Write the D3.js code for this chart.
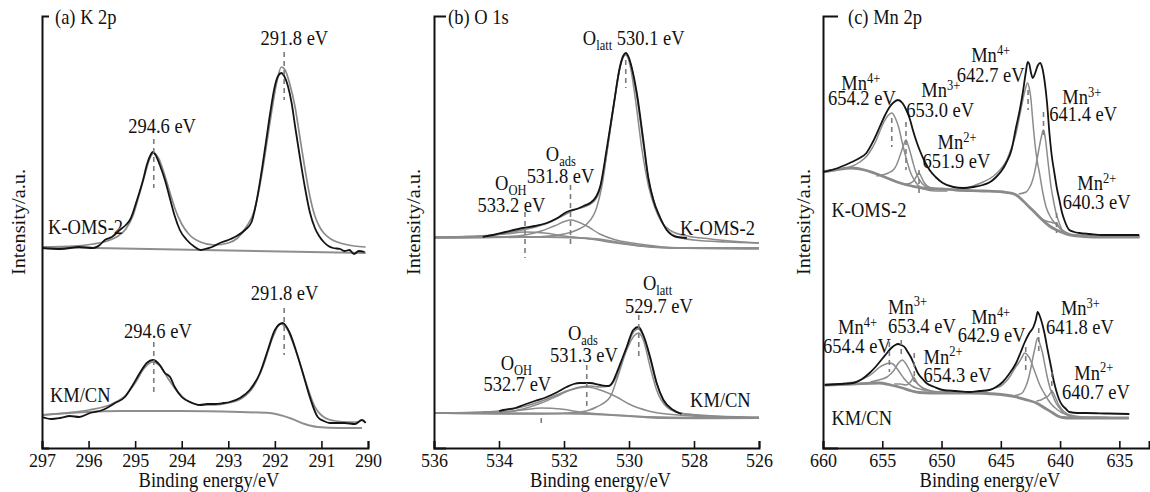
<!DOCTYPE html>
<html>
<head>
<meta charset="utf-8">
<script src="https://cdn.jsdelivr.net/npm/d3@7"></script>
<style>
  body { margin: 0; background: #fff; }
  svg { display: block; background: #fff; }
  svg text { font-family: "Liberation Serif", Tinos, "Times New Roman", Times, "DejaVu Serif", serif; fill: #111; white-space: pre; }
</style>
</head>
<body>
<svg id="chart" width="1150" height="492" font-family="Liberation Serif, Times New Roman, serif"></svg>
<script>
// ---------- (a) K 2p : [binding energy (eV), intensity (a.u.)] ----------
const k2pTicks = [297, 296, 295, 294, 293, 292, 291, 290];

const k2pOmsRaw = [
  [297.0,200],[296.6,199],[296.2,201],[295.9,200],[295.76,203],[295.65,208],[295.5,211],[295.33,218],[295.2,223],[295.1,229],
  [294.96,248],[294.83,268],[294.75,283],[294.68,292],[294.62,296],[294.55,292],[294.47,283],[294.36,268],[294.25,249],[294.15,232],
  [294.04,218],[293.89,208],[293.72,201],[293.6,198],[293.5,199],[293.35,201],[293.18,205],[293.0,208],[292.86,211],[292.64,218],
  [292.5,226],[292.4,245],[292.3,272],[292.2,303],[292.1,335],[292.0,362],[291.93,372],[291.86,375],[291.8,372],[291.72,362],
  [291.64,345],[291.56,320],[291.46,290],[291.36,262],[291.25,236],[291.14,220],[291.05,212],[290.95,206],[290.85,202],[290.75,200],
  [290.6,199],[290.5,197],[290.4,198],[290.3,194],[290.2,197],[290.07,196]
];
const k2pOmsFit = [
  [297.0,201],[296.3,202],[295.9,204],[295.6,207],[295.4,211],[295.2,219],[295.05,232],[294.92,252],[294.8,272],[294.68,290],
  [294.6,295],[294.5,290],[294.38,275],[294.25,255],[294.15,240],[294.0,224],[293.85,214],[293.6,206],[293.3,203],[293.0,205],
  [292.8,210],[292.6,222],[292.45,236],[292.35,256],[292.25,282],[292.15,312],[292.05,342],[291.95,368],[291.86,381],[291.78,378],
  [291.68,364],[291.57,342],[291.46,310],[291.35,278],[291.25,252],[291.14,232],[291.05,222],[290.95,215],[290.8,209],[290.6,205],
  [290.3,202],[290.05,201]
];
const k2pOmsBg = [[297.0,201],[290.05,195]];

const k2pCnRaw = [
  [297.0,31],[296.8,29],[296.61,30],[296.4,32],[296.2,31],[295.97,35],[295.7,38],[295.43,45],[295.22,51],[295.05,63],
  [294.9,75],[294.75,85],[294.62,88],[294.47,83],[294.36,75],[294.25,71],[294.15,61],[294.0,51],[293.82,46],[293.61,43],
  [293.45,44],[293.29,44],[293.1,45],[292.97,46],[292.75,50],[292.54,58],[292.32,75],[292.15,98],[292.0,118],[291.83,125],
  [291.68,115],[291.53,95],[291.4,75],[291.25,51],[291.08,31],[290.95,27],[290.82,25],[290.5,25],[290.28,24],[290.13,28],[290.05,25]
];
const k2pCnFit = [
  [297.0,33],[296.5,35],[296.0,38],[295.5,44],[295.2,53],[295.0,65],[294.8,80],[294.62,86],[294.45,81],[294.3,70],
  [294.1,57],[293.9,48],[293.6,43],[293.3,43],[293.0,45],[292.7,50],[292.45,62],[292.25,82],[292.05,110],[291.88,124],
  [291.75,120],[291.55,97],[291.35,68],[291.15,42],[290.95,31],[290.7,27],[290.4,26],[290.2,26]
];
const k2pCnBg = [
  [297.0,33],[295.33,37],[294.04,37],[292.75,36],[292.11,35],[291.68,30],[291.36,24],[291.08,21],[290.61,20],[290.13,20]
];
// peak markers: [energy, upper end, lower end]
const k2pMarkers = [[294.6,309,260],[291.8,396,348],[294.6,106,56],[291.8,140,93]];

// ---------- (b) O 1s ----------
const o1sTicks = [536, 534, 532, 530, 528, 526];

const o1sOmsRaw = [
  [534.5,211],[534.18,213],[533.8,216],[533.26,220],[532.9,222],[532.53,225],[532.2,230],[531.92,236],[531.75,238],[531.61,239],
  [531.4,242],[531.2,245],[531.0,252],[530.89,261],[530.69,298],[530.48,341],[530.28,381],[530.18,392],[530.1,395],[530.0,390],
  [529.92,381],[529.76,355],[529.56,308],[529.41,271],[529.25,248],[529.05,231],[528.84,218],[528.53,211],[528.22,210]
];
const o1sOmsFit = [
  [536,211],[535,211.5],[534.2,213],[533.6,216],[533.0,220],[532.5,225],[532.0,233],[531.7,238],[531.4,241],[531.1,246],
  [530.9,258],[530.7,292],[530.5,336],[530.3,377],[530.18,391],[530.1,394],[530.0,389],[529.9,377],[529.75,350],[529.55,302],
  [529.4,268],[529.2,243],[529.0,227],[528.8,217],[528.5,211],[528.0,208],[527.0,206],[526,205]
];
const o1sOmsLatt = [
  [536,210],[533.0,211],[532.0,214],[531.6,218],[531.3,224],[531.0,240],[530.8,268],[530.6,315],[530.4,358],[530.25,385],
  [530.1,393],[529.95,380],[529.8,348],[529.6,298],[529.4,262],[529.2,240],[529.0,226],[528.7,217],[528.2,212],[527.5,209],[526.0,205]
];
const o1sOmsAds = [
  [536,210],[534,211],[533.2,213],[532.7,217],[532.3,222],[531.8,228],[531.3,222],[530.9,214],[530.4,208],[529.9,205],
  [529.2,202],[528.5,200],[526,199]
];
const o1sOmsOh = [
  [536,211],[534.5,212],[533.8,214],[533.2,216],[532.6,215],[532.0,212],[531.2,209],[530.4,205],[529.6,202],[528.5,200],[526,200]
];
const o1sOmsBg = [
  [536,211],[532.5,211],[531.8,210.5],[531.0,209],[530.3,205.5],[529.6,202],[529.0,200.5],[528,200],[526,200]
];

const o1sCnRaw = [
  [534.0,37],[533.87,38],[533.5,40],[533.25,43],[532.9,47],[532.53,51],[532.2,56],[531.92,61],[531.7,64],[531.51,65],
  [531.2,65],[530.89,63],[530.64,62],[530.5,66],[530.38,75],[530.2,90],[530.07,101],[529.87,118],[529.71,121],[529.56,113],
  [529.35,91],[529.15,65],[528.94,48],[528.64,38],[528.38,34]
];
const o1sCnFit = [
  [536,35],[534.5,36],[534.0,37],[533.3,41],[532.6,48],[532.0,56],[531.5,61],[531.2,62],[530.9,61],[530.6,62],
  [530.38,72],[530.15,93],[529.9,114],[529.72,119],[529.55,111],[529.35,89],[529.15,65],[528.95,48],[528.65,38],[528.3,34],
  [527.5,32],[526,31]
];
const o1sCnLatt = [
  [536,35],[533.5,34],[532.7,34],[531.5,36],[531.0,41],[530.58,51],[530.38,68],[530.07,98],[529.85,112],[529.7,115],
  [529.56,108],[529.35,81],[529.15,58],[528.84,41],[528.43,35],[527.4,32],[526.07,30]
];
const o1sCnAds = [
  [536,35],[533.8,36],[532.7,45],[532.2,52],[531.8,58],[531.3,61],[530.8,57],[530.38,51],[530.0,44],[529.4,37],
  [528.5,33],[527.5,31],[526,30]
];
const o1sCnOh = [[536,35],[534,36],[533.3,38],[532.7,40],[532.1,39],[531.5,36],[530.5,33],[529,31],[526,30]];
const o1sCnBg = [[536,35],[532,34.5],[531.2,34],[530.5,33],[529.8,31.5],[529,30],[528,29.7],[526,30]];
const o1sMarkers = [[533.2,236,190],[531.8,263,201],[530.1,388,360],[532.7,30,21],[531.3,83,38],[529.7,133,90]];

// ---------- (c) Mn 2p ----------
const mn2pTicks = [660, 655, 650, 645, 640, 635];

const mn2pOmsRaw = [
  [660.0,276],[659.0,279],[657.75,285],[656.9,290],[656.34,295],[655.8,306],[655.22,321],[654.8,332],[654.38,341],[654.0,346],
  [653.68,348],[653.3,345],[652.97,338],[652.7,330],[652.42,318],[652.1,306],[651.85,298],[651.4,286],[651.01,278],[650.5,271],
  [649.89,265],[649.0,261],[648.21,260],[647.3,261],[646.52,263],[645.9,266],[645.39,271],[644.95,277],[644.55,285],[644.1,298],
  [643.71,321],[643.4,338],[643.15,355],[642.9,375],[642.73,386],[642.6,384],[642.45,375],[642.31,370],[642.1,375],[641.9,382],
  [641.69,385],[641.5,380],[641.32,368],[641.1,345],[640.9,315],[640.7,292],[640.48,275],[640.26,259],[640.06,248],[639.85,236],
  [639.64,228],[639.22,218],[638.8,216],[638.38,215],[637.5,214],[636.44,213],[635,213],[633.32,213]
];
const mn2pOms654 = [
  [660,276],[658.5,279],[657.5,282],[656.9,286],[656.3,292],[655.9,299],[655.5,308],[655.2,317],[654.9,325],[654.55,332],
  [654.2,335],[653.9,330],[653.6,320],[653.35,307],[653.1,295],[652.85,284],[652.6,275],[652.3,268],[652.0,263],[651.5,259],
  [650.5,257],[649.5,257]
];
const mn2pOms653 = [
  [655.5,272],[654.5,275],[654.0,279],[653.8,283],[653.6,289],[653.4,296],[653.2,303],[653.0,308],[652.8,302],[652.6,294],
  [652.4,285],[652.2,277],[651.9,269],[651.6,264],[651.0,260],[650.5,259]
];
const mn2pOms652 = [
  [653.5,265],[653.0,264],[652.6,265],[652.3,268],[652.1,272],[651.9,275],[651.7,271],[651.5,266],[651.2,262],[650.8,260],[650,258]
];
const mn2pOms643 = [
  [648.5,258],[647.6,261],[646.5,266],[645.6,272],[644.86,281],[644.5,288],[644.2,297],[643.95,305],[643.71,315],[643.45,330],
  [643.2,345],[642.95,358],[642.75,365],[642.6,360],[642.45,348],[642.33,331],[642.1,302],[641.9,285],[641.74,275],[641.45,255],
  [641.18,241],[640.9,233],[640.65,228],[640.2,222],[639.81,218],[639.2,214],[638.5,213],[637,211.5],[635,211],[633.3,211]
];
const mn2pOms641 = [
  [643.5,254],[642.86,256],[642.6,260],[642.4,265],[642.2,273],[642.0,285],[641.8,298],[641.6,310],[641.4,318],[641.25,310],
  [641.1,295],[640.91,275],[640.75,260],[640.6,250],[640.34,235],[640.1,226],[639.81,218],[639.4,215],[639,213],[637,212],
  [635,211.5],[633.3,211.5]
];
const mn2pOms640 = [
  [641.6,230],[641.2,227],[640.8,226],[640.5,225],[640.3,225],[640.1,221],[639.9,218],[639.7,216],[639.3,214],[639,213],
  [637,211.5],[633.3,211]
];
const mn2pOmsBg = [
  [660,276],[659,278],[657.6,280],[656.5,278],[655.7,275],[654.6,270],[653.5,265],[652.5,262],[651.6,260],[650,259],
  [648.8,258],[646.5,257],[644.8,256],[644.2,255],[643.7,253],[643.2,248],[642.6,241],[642.0,234],[641.5,228],[640.9,222],
  [640.3,218],[639.7,215],[639.2,213],[638,211.5],[636.4,211],[633.3,211]
];

const mn2pCnRaw = [
  [659.86,63],[658.6,64],[657.47,65],[656.7,69],[656.07,75],[655.5,82],[654.95,90],[654.6,95],[654.24,100],[653.9,103],
  [653.68,104],[653.4,103],[653.12,101],[652.85,96],[652.55,90],[652.3,83],[652.0,75],[651.6,69],[651.29,65],[650.6,61],
  [649.89,58],[648.8,57],[647.64,56],[646.8,57],[645.96,58],[645.4,61],[644.84,66],[644.3,74],[643.71,85],[643.35,95],
  [643.01,105],[642.59,115],[642.25,121],[642.05,128],[641.89,136],[641.75,133],[641.6,128],[641.32,115],[641.05,98],[640.76,81],
  [640.55,68],[640.34,58],[640.1,49],[639.83,43],[639.5,39],[639.22,36],[638.5,35],[637.81,35],[636,34.5],[634.16,34]
];
const mn2pCn654 = [
  [658,65],[657,67],[656.5,70],[656,73],[655.5,78],[655.2,81],[654.9,83],[654.4,85],[654.1,84],[653.8,80],
  [653.5,75],[653.2,70],[652.9,66],[652.5,62],[652,59.5],[651.5,58],[650.5,56.5],[649.5,56]
];
const mn2pCn653 = [
  [656,66],[655.3,68],[655,69],[654.6,71],[654.3,74],[654.0,78],[653.8,82],[653.55,86],[653.3,88],[653.05,85],
  [652.8,80],[652.55,74],[652.3,68],[652.0,64],[651.6,60],[651.0,57.5],[650.5,56]
];
const mn2pCn652 = [
  [654,64],[653.5,64],[653.0,63],[652.7,65],[652.5,68],[652.36,71],[652.2,68],[652.0,64],[651.8,62],[651.4,59],[651,57],[650,55]
];
const mn2pCn643 = [
  [647.5,56],[646.5,57],[646,58],[645.5,60],[645,62],[644.6,66],[644.2,72],[643.8,80],[643.5,85],[643.2,91],
  [643.0,95],[642.75,93],[642.5,88],[642.25,80],[642.0,72],[641.75,64],[641.5,58],[641.25,53],[641.0,48],[640.75,44],
  [640.5,41],[640.2,38],[639.8,35],[639.2,33],[638.5,31],[637,30.5],[634.2,30]
];
const mn2pCn642 = [
  [644,52],[643.6,53],[643.2,55],[642.95,60],[642.7,68],[642.5,78],[642.3,90],[642.1,101],[641.9,110],[641.7,104],
  [641.5,96],[641.3,84],[641.1,72],[640.9,62],[640.7,55],[640.5,49],[640.3,44],[640.05,40],[639.8,36],[639.4,33],
  [639,31],[637,30.5],[634.2,30]
];
const mn2pCn641 = [
  [642,47],[641.6,48],[641.3,50],[641.0,52],[640.8,55],[640.62,56],[640.45,52],[640.3,48],[640.2,45],[640.0,41],
  [639.8,38],[639.5,35],[639.2,33],[638,31],[636,30.5],[634.2,30]
];
const mn2pCnBg = [
  [659.86,63],[657.5,64],[655.3,65],[654.3,63],[653.3,60],[652.5,57],[651.9,55.5],[650,55],[647.6,55],[645.5,54],
  [643.7,51],[642.8,48],[642.0,45],[641.3,40],[640.6,35],[640.2,32],[639.8,30.5],[639,30],[636,30],[634.2,30]
];
const mn2pMarkers = [
  [654.2,330,301],[653.0,326,278],[651.9,278,251],[642.7,358,338],[641.4,336,311],[640.3,235,215],
  [654.4,106,76],[653.4,108,90],[652.3,95,66],[642.9,101,78],[641.8,120,95],[640.7,76,55]
];

// ---------- drawing ----------
const SERIF = "'Liberation Serif', Tinos, 'Times New Roman', Times, 'DejaVu Serif', serif";
const FONT = 18.5, SMALL = 12.5, STRETCH = 1.1;
const PLOT_TOP = 16, PLOT_BOTTOM = 448;
const svg = d3.select("#chart");

const STYLE = {
  bg:   { stroke: "#8e8e8e", width: 2.0 },
  bgMn: { stroke: "#8a8a8a", width: 2.8 },
  comp: { stroke: "#8c8c8c", width: 1.5 },
  fit:  { stroke: "#8a8a8a", width: 1.7 },
  raw:  { stroke: "#141414", width: 1.8 }
};

// text with ^sup and _sub segments, slightly taller than wide
function richText(g, x, y, str, size, anchor) {
  const t = g.append("text")
    .attr("transform", `translate(${x},${y}) scale(1,${STRETCH})`)
    .attr("text-anchor", anchor || "start")
    .style("font-family", SERIF)
    .style("font-size", size + "px");
  let shift = 0;
  str.split(/(\^\S+|_\S+)/).filter(s => s.length).forEach(tok => {
    let target = 0, fs = size, txt = tok;
    if (tok[0] === "^") { target = -6.5; fs = SMALL; txt = tok.slice(1); }
    else if (tok[0] === "_") { target = 4.5; fs = SMALL; txt = tok.slice(1); }
    t.append("tspan").attr("dy", target - shift).style("font-size", fs + "px").text(txt);
    shift = target;
  });
  return t;
}

const panels = [
  {
    title: "(a) K 2p", domain: [297, 290], left: 42, right: 368, ticks: k2pTicks,
    bracket: 7, titleDx: 13, yLabelX: 25,
    series: [
      [k2pOmsBg, "bg"], [k2pOmsFit, "fit"], [k2pOmsRaw, "raw"],
      [k2pCnBg, "bg"], [k2pCnFit, "fit"], [k2pCnRaw, "raw"]
    ],
    markers: k2pMarkers,
    labels: [
      ["294.6 eV", 295.15, 315], ["291.8 eV", 292.31, 403.5], ["K-OMS-2", 296.87, 214],
      ["294.6 eV", 295.24, 110.5], ["291.8 eV", 292.52, 148], ["KM/CN", 296.83, 46]
    ]
  },
  {
    title: "(b) O 1s", domain: [536, 526], left: 434, right: 759, ticks: o1sTicks,
    bracket: 12, titleDx: 14, yLabelX: 420,
    series: [
      [o1sOmsBg, "bg"], [o1sOmsOh, "comp"], [o1sOmsAds, "comp"], [o1sOmsLatt, "comp"], [o1sOmsFit, "fit"], [o1sOmsRaw, "raw"],
      [o1sCnBg, "bg"], [o1sCnOh, "comp"], [o1sCnAds, "comp"], [o1sCnLatt, "comp"], [o1sCnFit, "fit"], [o1sCnRaw, "raw"]
    ],
    markers: o1sMarkers,
    labels: [
      ["O_latt 530.1 eV", 531.42, 403], ["O_ads", 532.56, 287], ["531.8 eV", 533.15, 265],
      ["O_OH", 534.12, 258], ["533.2 eV", 534.66, 236], ["K-OMS-2", 528.43, 213],
      ["O_latt", 529.57, 158], ["529.7 eV", 530.12, 135], ["O_ads", 531.88, 108], ["531.3 eV", 532.43, 86],
      ["O_OH", 533.95, 78], ["532.7 eV", 534.48, 57], ["KM/CN", 528.12, 41]
    ]
  },
  {
    title: "(c) Mn 2p", domain: [660, 632.5], left: 823, right: 1149, ticks: mn2pTicks,
    bracket: 15, titleDx: 25, yLabelX: 810,
    series: [
      [mn2pOmsBg, "bgMn"], [mn2pOms654, "comp"], [mn2pOms653, "comp"], [mn2pOms652, "comp"],
      [mn2pOms643, "comp"], [mn2pOms641, "comp"], [mn2pOms640, "comp"], [mn2pOmsRaw, "raw"],
      [mn2pCnBg, "bgMn"], [mn2pCn654, "comp"], [mn2pCn653, "comp"], [mn2pCn652, "comp"],
      [mn2pCn643, "comp"], [mn2pCn642, "comp"], [mn2pCn641, "comp"], [mn2pCnRaw, "raw"]
    ],
    markers: mn2pMarkers,
    labels: [
      ["Mn^4+", 658.45, 358], ["654.2 eV", 659.58, 343], ["Mn^3+", 651.71, 351], ["653.0 eV", 652.97, 331],
      ["Mn^2+", 650.34, 299], ["651.9 eV", 651.6, 280], ["Mn^4+", 647.5, 386], ["642.7 eV", 648.71, 366],
      ["Mn^3+", 639.81, 344], ["641.4 eV", 640.91, 327], ["Mn^2+", 638.55, 258], ["640.3 eV", 639.78, 239.5],
      ["K-OMS-2", 659.29, 231],
      ["Mn^4+", 658.74, 114], ["654.4 eV", 660.0, 95], ["Mn^3+", 654.52, 134.5], ["653.4 eV", 654.52, 115],
      ["Mn^2+", 651.52, 84.5], ["654.3 eV", 651.52, 66], ["Mn^4+", 647.5, 124], ["642.9 eV", 648.63, 106],
      ["Mn^3+", 639.93, 133], ["641.8 eV", 641.18, 114], ["Mn^2+", 638.8, 68.5], ["640.7 eV", 639.83, 49.5],
      ["KM/CN", 659.29, 23]
    ]
  }
];

panels.forEach(p => {
  const g = svg.append("g");
  const x = d3.scaleLinear().domain(p.domain).range([p.left, p.right]);
  const y = d3.scaleLinear().domain([0, PLOT_BOTTOM - PLOT_TOP]).range([PLOT_BOTTOM, PLOT_TOP]);
  const line = d3.line().x(d => x(d[0])).y(d => y(d[1])).curve(d3.curveMonotoneX);

  // background, component, envelope and measured curves
  p.series.forEach(([data, kind]) => {
    g.append("path").datum(data)
      .attr("d", line)
      .attr("fill", "none")
      .attr("stroke", STYLE[kind].stroke)
      .attr("stroke-width", STYLE[kind].width)
      .attr("stroke-linejoin", "round");
  });

  // dashed peak-position markers
  g.selectAll(null).data(p.markers).join("line")
    .attr("x1", d => x(d[0])).attr("x2", d => x(d[0]))
    .attr("y1", d => y(d[1])).attr("y2", d => y(d[2]))
    .attr("stroke", "#7c7c7c").attr("stroke-width", 1.6)
    .attr("stroke-dasharray", "5,4");

  // peak and sample labels
  p.labels.forEach(([txt, e, v]) => richText(g, x(e), y(v), txt, FONT));

  // bottom axis, ticks pointing inward
  const xAxis = d3.axisBottom(x).tickValues(p.ticks).tickFormat(d3.format("d"))
    .tickSize(-7).tickSizeOuter(-7);
  const ax = g.append("g").attr("transform", `translate(0,${PLOT_BOTTOM})`).call(xAxis);
  ax.attr("font-family", SERIF).attr("font-size", null);
  ax.select(".domain").attr("stroke", "#111").attr("stroke-width", 2);
  ax.selectAll(".tick line").attr("stroke", "#111").attr("stroke-width", 1.6);
  ax.selectAll(".tick text")
    .attr("y", null).attr("dy", null)
    .attr("transform", `translate(0,19) scale(1,${STRETCH})`)
    .style("font-family", SERIF)
    .style("font-size", "18px").attr("fill", "#111");

  // left axis: plain line with a short bracket at the top
  const yAxis = d3.axisLeft(y).tickValues([]).tickSizeOuter(-p.bracket);
  const ay = g.append("g").attr("transform", `translate(${p.left},0)`).call(yAxis);
  ay.select(".domain").attr("stroke", "#111").attr("stroke-width", 2);

  // titles
  richText(g, p.left + p.titleDx, PLOT_TOP + 8, p.title, FONT);
  richText(g, (p.left + p.right) / 2 + 4, 487, "Binding energy/eV", FONT, "middle");
  g.append("text")
    .attr("transform", `translate(${p.yLabelX},222) rotate(-90) scale(${STRETCH},1)`)
    .attr("text-anchor", "middle")
    .style("font-family", SERIF)
    .style("font-size", FONT + "px")
    .text("Intensity/a.u.");
});
</script>
</body>
</html>
